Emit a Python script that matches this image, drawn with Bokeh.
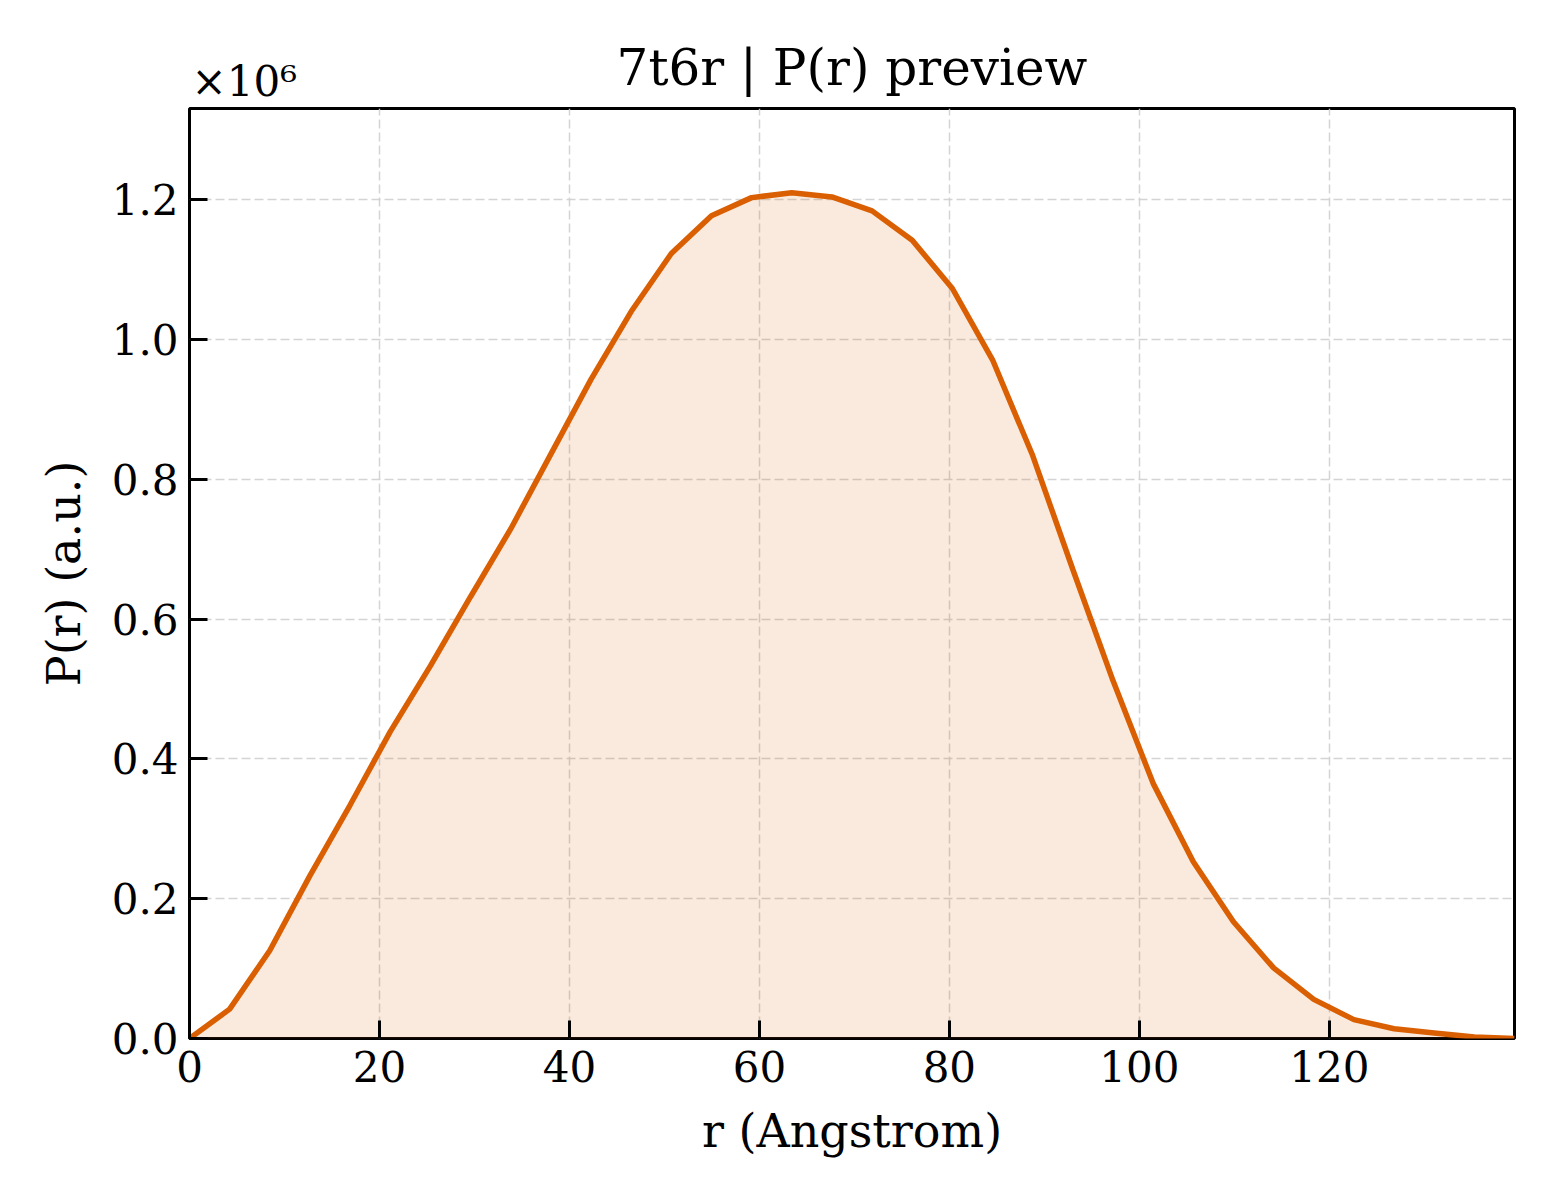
from bokeh.plotting import figure
from bokeh.models import Range1d, FixedTicker, CustomJSTickFormatter, Title
from bokeh.embed import file_html
from bokeh.resources import INLINE

# r in Angstrom (34 evenly spaced samples), P(r) in arbitrary units
r_max = 139.5
n_pts = 34
r_vals = [r_max * i / (n_pts - 1) for i in range(n_pts)]
p_vals = [0.000e6, 0.042e6, 0.126e6, 0.233e6, 0.334e6, 0.439e6, 0.533e6, 0.632e6,
          0.729e6, 0.836e6, 0.943e6, 1.040e6, 1.123e6, 1.177e6, 1.203e6, 1.210e6,
          1.204e6, 1.184e6, 1.142e6, 1.073e6, 0.971e6, 0.834e6, 0.671e6, 0.512e6,
          0.365e6, 0.253e6, 0.167e6, 0.101e6, 0.056e6, 0.027e6, 0.014e6, 0.008e6,
          0.002e6, 0.000e6]
x_ticks = [0, 20, 40, 60, 80, 100, 120]
y_ticks = [0, 0.2e6, 0.4e6, 0.6e6, 0.8e6, 1.0e6, 1.2e6]
y_top = 1.3305e6
title_text = "7t6r | P(r) preview"
x_label = "r (Angstrom)"
y_label = "P(r) (a.u.)"
offset_text = "×10⁶"

FONT = "DejaVu Serif"
ORANGE = "#d95f02"

p = figure(width=1552, height=1192, output_backend="svg", toolbar_location=None,
           x_range=Range1d(0, r_max), y_range=Range1d(0, y_top),
           min_border_left=189, min_border_right=38, min_border_top=108,
           min_border_bottom=154, title=title_text)

p.varea(x=r_vals, y1=0, y2=p_vals, fill_color=ORANGE, fill_alpha=0.13)
p.line(x=r_vals, y=p_vals, line_color=ORANGE, line_width=5.5)

p.title.text_font = FONT
p.title.text_font_size = "50px"
p.title.text_font_style = "normal"
p.title.text_color = "black"
p.title.align = "center"
p.title.standoff = -89

# scale-offset text of the y axis, left-aligned just above the frame
off = Title(text=offset_text, align="left", offset=2, standoff=5,
            text_font=FONT, text_font_size="42px", text_font_style="normal",
            text_color="black")
p.add_layout(off, "above")

p.outline_line_color = "black"
p.outline_line_width = 3
p.outline_line_alpha = 1
p.background_fill_color = "white"
p.border_fill_color = "white"

p.xaxis.ticker = FixedTicker(ticks=x_ticks)
p.yaxis.ticker = FixedTicker(ticks=y_ticks)
p.yaxis.formatter = CustomJSTickFormatter(code="return (tick/1e6).toFixed(1);")
p.xaxis.formatter = CustomJSTickFormatter(code="return tick.toFixed(0);")

for ax in (p.xaxis, p.yaxis):
    ax.axis_line_color = None
    ax.major_tick_in = 18
    ax.major_tick_out = 0
    ax.major_tick_line_width = 3
    ax.major_tick_line_color = "black"
    ax.minor_tick_line_color = None
    ax.major_label_text_font = FONT
    ax.major_label_text_font_size = "42px"
    ax.major_label_text_color = "black"
    ax.axis_label_text_font = FONT
    ax.axis_label_text_font_size = "46px"
    ax.axis_label_text_font_style = "normal"
    ax.axis_label_text_color = "black"

p.xaxis.axis_label = x_label
p.yaxis.axis_label = y_label
p.yaxis.major_label_standoff = 11
p.xaxis.major_label_standoff = 12
p.yaxis.axis_label_standoff = 18
p.xaxis.axis_label_standoff = 19

for g in (p.xgrid, p.ygrid):
    g.grid_line_color = "#cfcfcf"
    g.grid_line_width = 1.5
    g.grid_line_dash = "9 4"
    g.grid_line_alpha = 0.9

open("out.html", "w").write(file_html(p, INLINE))
